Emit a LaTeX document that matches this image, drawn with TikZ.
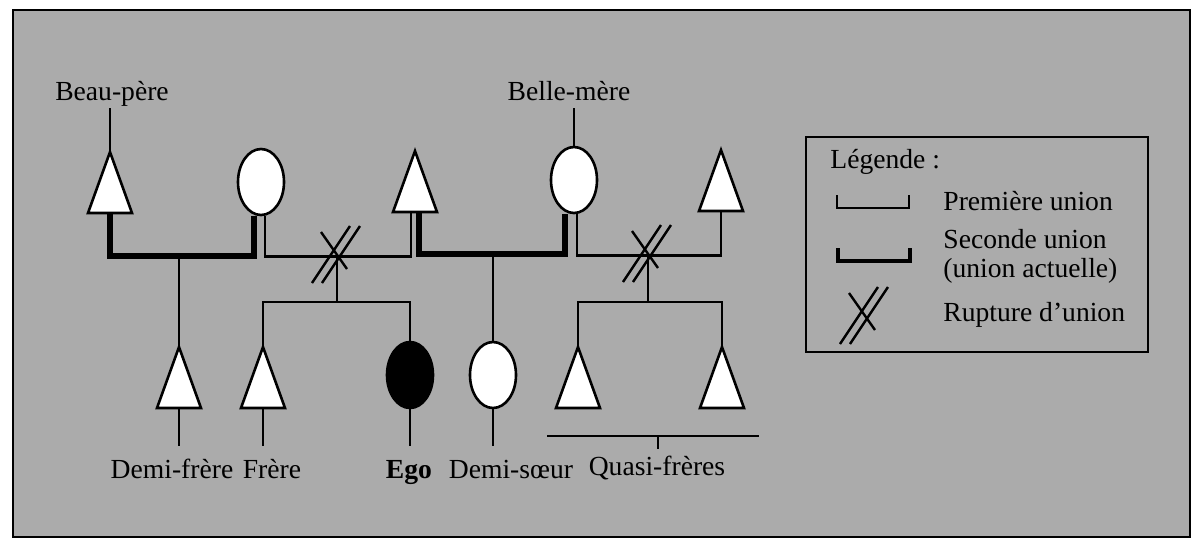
\documentclass[tikz,border=0pt]{standalone}
\usepackage{fontspec}
\setmainfont{Liberation Serif}
\usetikzlibrary{shapes.geometric}
\definecolor{bg}{gray}{0.67}
\tikzset{
  lbl/.style={inner sep=0pt, text height=0.72em, text depth=0.22em, font=\fontsize{13.8}{16}\selectfont},
  woman/.style={ellipse, draw, line width=1.3pt, fill=white, minimum width=23pt, minimum height=33pt, inner sep=0pt},
  thinu/.style={line width=1.3pt},
  thicku/.style={line width=2.8pt, line join=miter},
  pics/tri/.style={code={
    \draw[line width=1.3pt, fill=white, line join=miter] (0,0) -- (22,61) -- (-22,61) -- cycle;
    \coordinate (-top) at (0,0);
    \coordinate (-bot) at (0,61);
  }},
  pics/rupt/.style={code={
    \draw[line width=1.2pt] (-16,-23) -- (10,14);
    \draw[line width=1.2pt] (-25,28) -- (13,-29);
    \draw[line width=1.2pt] (-15,28) -- (23,-29);
  }},
}
\begin{document}
\begin{tikzpicture}[x=0.5pt, y=-0.5pt]
\useasboundingbox (0,0) rectangle (1200,548);
\fill[white] (0,0) rectangle (1200,548);
\draw[line width=1.4pt, fill=bg] (13,10) rectangle (1190,537);

% people
\pic (t1) at (110,152) {tri};
\node[woman] (m1) at (261,182) {};
\pic (t2) at (415,151) {tri};
\node[woman] (m2) at (574,180) {};
\pic (t3) at (721,150) {tri};
\pic (df) at (179,347) {tri};
\pic (fr) at (263,347) {tri};
\node[woman, fill=black] (ego) at (410,375) {};
\node[woman] (ds) at (493,375) {};
\pic (q1) at (578,347) {tri};
\pic (q2) at (722,347) {tri};

% labels
\node[lbl, anchor=base] (bpl) at (112,100) {Beau-père};
\node[lbl, anchor=base] (bml) at (569,100) {Belle-mère};
\node[lbl, anchor=base] (dfl) at (172,478) {Demi-frère};
\node[lbl, anchor=base] (frl) at (272,478) {Frère};
\node[lbl, anchor=base] (egl) at (409,478) {\bfseries Ego};
\node[lbl, anchor=base] (dsl) at (511,478) {Demi-sœur};
\node[lbl, anchor=base] (qfl) at (657,475) {Quasi-frères};

\draw[thinu, shorten >=1.5pt] (t1-top) -- (t1-top |- bpl.south);
\draw[thinu, shorten >=1.5pt] (m2.north) -- (m2.north |- bml.south);

% unions
\draw[thicku] (t1-bot) -- ++(0,43) -| ([xshift=-3.5pt]m1.south);
\draw[thinu] ([xshift=2pt]m1.south) -- ++(0,40) -| ([xshift=-2pt]t2-bot);
\draw[thicku] ([xshift=2pt]t2-bot) -- ++(0,42) -| ([xshift=-4.5pt]m2.south);
\draw[thinu] ([xshift=1.5pt]m2.south) -- ++(0,41) -| (t3-bot);

% children
\coordinate (j1) at (179,256);
\coordinate (j2) at (493,254);
\coordinate (s1) at (337,255);
\coordinate (s2) at (648,254);
\draw[thinu] (j1) -- (df-top);
\draw[thinu] (j2) -- (ds.north);
\draw[thinu] (s1) -- ++(0,47) coordinate (sb1);
\draw[thinu] (fr-top) |- (sb1) -| (ego.north);
\draw[thinu] (s2) -- ++(0,48) coordinate (sb2);
\draw[thinu] (q1-top) |- (sb2) -| (q2-top);
\pic at (s1) {rupt};
\pic at (s2) {rupt};

% lines down to labels
\coordinate (lowend) at (0,446);
\draw[thinu] (df-bot) -- (df-bot |- lowend);
\draw[thinu] (fr-bot) -- (fr-bot |- lowend);
\draw[thinu] (ego.south) -- (ego.south |- lowend);
\draw[thinu] (ds.south) -- (ds.south |- lowend);

% quasi-freres bracket
\coordinate (qa) at (547,436);
\coordinate (qb) at (759,436);
\coordinate (qm) at (658,436);
\draw[thinu] (qa) -- (qb);
\draw[thinu] (qm) -- ++(0,13);

% legend
\draw[line width=1.3pt] (806,137) rectangle (1148,352);
\node[lbl, anchor=base west] (lgt) at (830,168) {Légende :};
\node[lbl, anchor=base west] (l1) at (943,210) {Première union};
\node[lbl, anchor=base west] (l2) at (943,248) {Seconde union};
\node[lbl, anchor=base west] (l3) at (943,277) {(union actuelle)};
\node[lbl, anchor=base west] (l4) at (943,321) {Rupture d'union};
\draw[thinu] (837,195) |- (909,208) -- (909,195);
\draw[line width=2.4pt, line join=miter] (838,248) |- (910,261) -- (910,248);
\pic at (865,316) {rupt};
\end{tikzpicture}
\end{document}
